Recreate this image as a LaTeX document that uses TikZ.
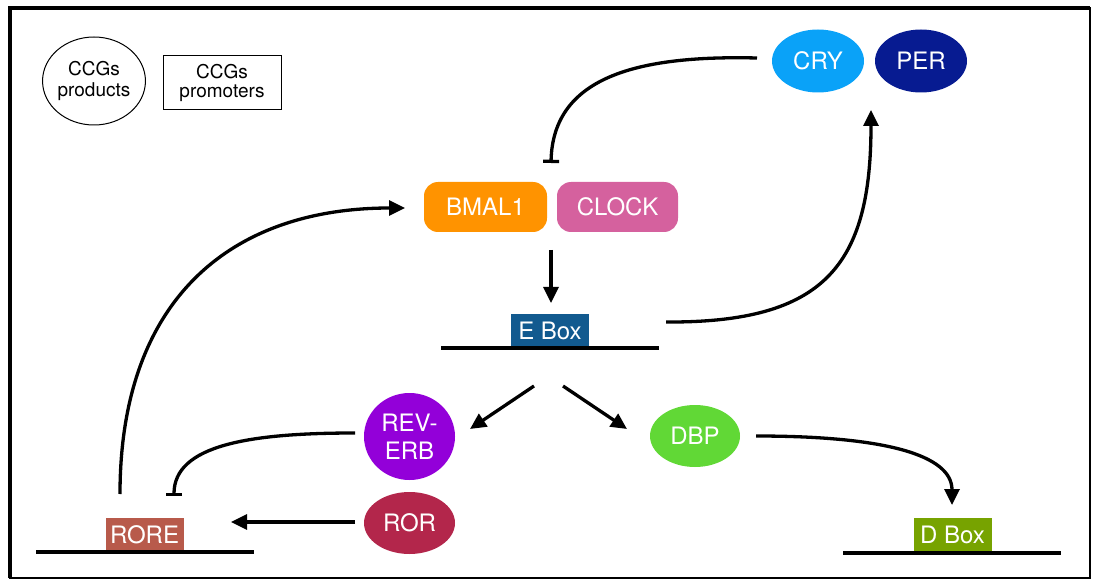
\documentclass[tikz,border=0pt]{standalone}
\usepackage{fontspec}
\setmainfont{TeX Gyre Heros}
\usetikzlibrary{arrows.meta,shapes.geometric}
\definecolor{cCRY}{HTML}{0AA2F8}
\definecolor{cPER}{HTML}{071B91}
\definecolor{cBMAL}{HTML}{FF9300}
\definecolor{cCLOCK}{HTML}{D5619E}
\definecolor{cEBOX}{HTML}{125A8F}
\definecolor{cREV}{HTML}{9300D9}
\definecolor{cROR}{HTML}{B3264B}
\definecolor{cDBP}{HTML}{61D836}
\definecolor{cRORE}{HTML}{B85A4B}
\definecolor{cDBOX}{HTML}{77A300}
\tikzset{
  big/.style={font=\fontsize{24}{25}\selectfont, text=white},
  prot/.style={ellipse, inner sep=0pt, big},
  rbox/.style={rounded corners=14pt, minimum width=123pt, minimum height=50pt, inner sep=0pt, big},
  site/.style={minimum width=78pt, minimum height=34pt, inner sep=0pt, big},
  dna/.style={line width=3.3pt},
  arr/.style={line width=3.3pt, -{Triangle[length=16pt,width=15pt]}},
  inh/.style={line width=3.3pt, -{Bar[width=16pt]}},
}
\begin{document}
\begin{tikzpicture}[x=1pt,y=-1pt]
\useasboundingbox (0,0) rectangle (1093,580);
% frame
\draw[line width=1.6pt] (10,8) rectangle (1090,578);
\draw[line width=3.5pt] (10,578) -- (10,8) -- (1090,8);

% legend
\node[draw, ellipse, line width=1pt, minimum width=100pt, minimum height=88pt, inner sep=0pt,
      align=center, font=\fontsize{19}{21}\selectfont] (leg1) at (94,81) {CCGs\\products};
\node[draw, line width=1pt, minimum width=118pt, minimum height=54pt, inner sep=0pt,
      align=center, font=\fontsize{19}{20}\selectfont] (leg2) at (222,83) {CCGs\\[-1pt]promoters};

% proteins
\node[prot, fill=cCRY, minimum width=92pt, minimum height=63pt] (cry) at (818,61) {CRY};
\node[prot, fill=cPER, minimum width=92pt, minimum height=63pt] (per) at (921,61) {PER};
\node[rbox, fill=cBMAL] (bmal) at (485.5,207) {BMAL1};
\node[rbox, fill=cCLOCK, minimum width=121pt] (clock) at (617.5,207) {CLOCK};
\node[prot, fill=cREV, minimum width=91pt, minimum height=87pt, align=center,
      font=\fontsize{24}{28}\selectfont] (rev) at (409.5,436.5) {REV-\\ERB};
\node[prot, fill=cROR, minimum width=91pt, minimum height=62pt] (ror) at (409.5,523) {ROR};
\node[prot, fill=cDBP, minimum width=90pt, minimum height=62pt] (dbp) at (695,436) {DBP};

% promoter sites
\node[site, fill=cEBOX] (ebox) at (550,330.5) {E Box};
\draw[dna] (441,348) coordinate (ebl) -- (659,348) coordinate (ebr);
\node[site, fill=cRORE] (rore) at (144.5,534.5) {RORE};
\draw[dna] (36,552) coordinate (rol) -- (254,552) coordinate (ror-r);
\node[site, fill=cDBOX] (dbox) at (952.5,535) {D Box};
\draw[dna] (843,553) coordinate (dbl) -- (1061,553) coordinate (dbr);

% free ends
\coordinate (cryS) at (757,58);
\coordinate (bmalT) at (551,163);
\coordinate (bmalB) at (551,250);
\coordinate (eboxT) at (551,303);
\coordinate (eboxR) at (666,322);
\coordinate (perB) at (871,110);
\coordinate (eboxD1) at (534,386);
\coordinate (eboxD2) at (563,386);
\coordinate (revT) at (470,429);
\coordinate (dbpT) at (627,429);
\coordinate (revS) at (355,433);
\coordinate (roreT) at (174,496);
\coordinate (rorS) at (355,522);
\coordinate (roreR) at (231,522);
\coordinate (roreU) at (120,494);
\coordinate (bmalL) at (405,208);
\coordinate (dbpS) at (756,436);
\coordinate (dboxT) at (952,505);

% connectors
\draw[inh] (cryS) .. controls (635,55) and (553,78) .. (bmalT);
\draw[arr] (bmalB) -- (eboxT);
\draw[arr] (eboxR) .. controls (825,323) and (871,265) .. (perB);
\draw[arr] (eboxD1) -- (revT);
\draw[arr] (eboxD2) -- (dbpT);
\draw[inh] (revS) .. controls (250,433) and (174,445) .. (roreT);
\draw[arr] (rorS) -- (roreR);
\draw[arr] (roreU) .. controls (120,300) and (230,208) .. (bmalL);
\draw[arr] (dbpS) .. controls (885,436) and (952,455) .. (dboxT);
\end{tikzpicture}
\end{document}
